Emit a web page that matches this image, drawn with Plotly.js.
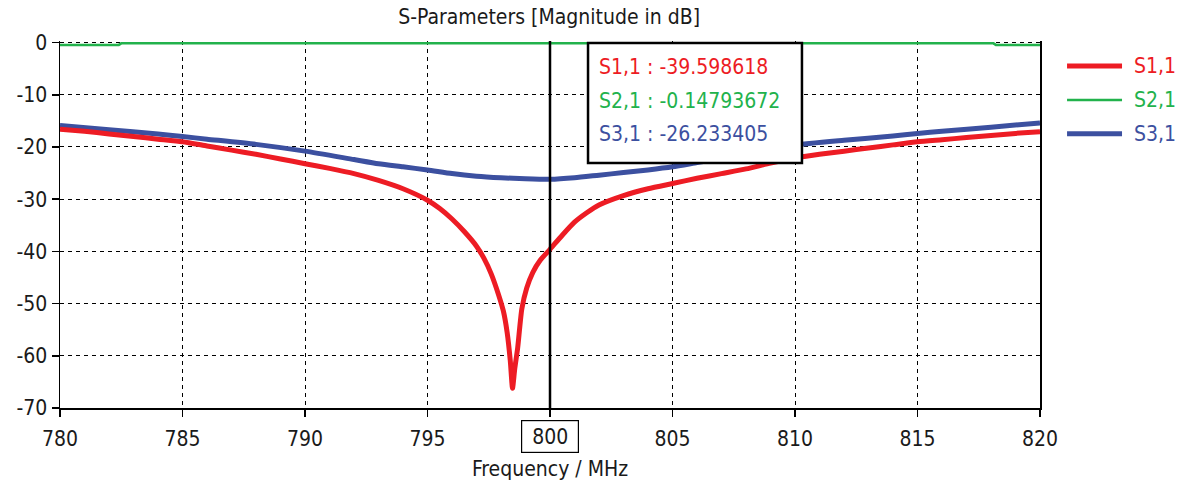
<!DOCTYPE html>
<html>
<head>
<meta charset="utf-8">
<script src="https://cdn.plot.ly/plotly-3.0.1.min.js"></script>
<style>html,body{margin:0;padding:0;background:#fff;}#chart{width:1186px;height:488px;}</style>
</head>
<body>
<div id="chart"></div>
<script>
// ---- data ----
const seriesNames = ['S1,1', 'S2,1', 'S3,1'];

const freqS11 = [780, 781, 782, 783, 784, 785, 786, 787, 788, 789, 790, 791, 792, 793, 794, 795, 795.5, 796, 796.5, 797, 797.3, 797.6, 797.9, 798.1, 798.25, 798.38, 798.47, 798.56, 798.68, 798.85, 799.05, 799.3, 799.6, 800, 800.5, 801, 801.5, 802, 803, 804, 805, 806, 807, 808, 809, 810, 811, 812, 813, 814, 815, 816, 817, 818, 819, 820];
const s11 = [-16.6, -17.0, -17.5, -18.0, -18.5, -19.0, -19.8, -20.6, -21.4, -22.3, -23.2, -24.1, -25.1, -26.4, -28.0, -30.2, -31.8, -33.8, -36.2, -39.0, -41.3, -44.3, -48.3, -51.5, -55.5, -61.0, -66.2, -62.5, -58.5, -51.0, -47.0, -44.0, -41.7, -39.6, -36.9, -34.4, -32.6, -31.1, -29.3, -28.0, -27.0, -26.0, -25.1, -24.2, -23.1, -22.1, -21.4, -20.8, -20.2, -19.6, -19.0, -18.6, -18.2, -17.8, -17.4, -17.1];

const freqS21 = [780, 782.4, 782.5, 818.1, 818.2, 820];
const s21 = [-0.45, -0.45, -0.15, -0.15, -0.45, -0.45];

const freqS31 = [780, 782, 784, 785, 786, 788, 790, 792, 793, 794, 795, 796, 797, 798, 799, 800, 801, 802, 803, 804, 805, 806, 807, 808, 809, 810, 812, 814, 815, 816, 818, 820];
const s31 = [-15.9, -16.7, -17.5, -18.0, -18.5, -19.5, -20.8, -22.4, -23.2, -23.8, -24.4, -25.1, -25.6, -25.9, -26.1, -26.2, -25.9, -25.4, -24.9, -24.4, -23.8, -23.0, -22.2, -21.3, -20.4, -19.6, -18.7, -17.9, -17.4, -17.0, -16.2, -15.4];

const markerFreq = 800;
const markerValues = ['-39.598618', '-0.14793672', '-26.233405'];

const xTickVals = [780, 785, 790, 795, 800, 805, 810, 815, 820];
const xTickLabels = ['780', '785', '790', '795', '800', '805', '810', '815', '820'];
const yTickVals = [0, -10, -20, -30, -40, -50, -60, -70];
const yTickLabels = ['0', '-10', '-20', '-30', '-40', '-50', '-60', '-70'];

const titleText = 'S-Parameters [Magnitude in dB]';
const xTitleText = 'Frequency / MHz';

// ---- styles ----
const FONT = '"DejaVu Sans Condensed", "DejaVu Sans", Verdana, sans-serif';
const FS = 21;
const TXT = '#1a1a1a';
const colors = ['#ED1C24', '#22B24C', '#3C50A0'];
const widths = [5, 2.5, 5];

const traces = [
  {x: freqS11, y: s11, name: seriesNames[0], mode: 'lines', line: {color: colors[0], width: widths[0], shape: 'spline', smoothing: 0.6}},
  {x: freqS21, y: s21, name: seriesNames[1], mode: 'lines', line: {color: colors[1], width: widths[1]}},
  {x: freqS31, y: s31, name: seriesNames[2], mode: 'lines', line: {color: colors[2], width: widths[2], shape: 'spline', smoothing: 0.6}}
];
const drawOrder = [traces[2], traces[1], traces[0]];

const shapes = [];
const annotations = [];

// marker line
shapes.push({type: 'line', xref: 'x', yref: 'paper', x0: markerFreq, x1: markerFreq, y0: 0, y1: 1, line: {color: '#000', width: 2.5}, layer: 'above'});

// readout box
shapes.push({type: 'rect', xref: 'paper', yref: 'paper', x0: 0.5388, x1: 0.7571, y0: 0.6676, y1: 0.9946, line: {color: '#000', width: 2.5}, fillcolor: '#fff', layer: 'above'});
const readY = [0.929, 0.837, 0.747];
for (let i = 0; i < 3; i++) {
  annotations.push({xref: 'paper', yref: 'paper', x: 0.548, y: readY[i], xanchor: 'left', yanchor: 'middle', showarrow: false,
    text: seriesNames[i] + ' : ' + markerValues[i], font: {family: FONT, size: FS, color: colors[i]}});
}

// legend drawn beside the plot
const legY = [0.932, 0.839, 0.747];
for (let i = 0; i < 3; i++) {
  shapes.push({type: 'line', xref: 'paper', yref: 'paper', x0: 1.0276, x1: 1.0837, y0: legY[i], y1: legY[i], line: {color: colors[i], width: widths[i]}});
  annotations.push({xref: 'paper', yref: 'paper', x: 1.094, y: legY[i], xanchor: 'left', yanchor: 'middle', showarrow: false,
    text: seriesNames[i], font: {family: FONT, size: FS, color: colors[i]}});
}

// boxed marker tick label
const markerIdx = xTickVals.indexOf(markerFreq);
const xTickText = xTickLabels.map((t, i) => i === markerIdx ? '' : t);
annotations.push({xref: 'x', yref: 'paper', x: markerFreq, y: -0.079, xanchor: 'center', yanchor: 'middle', showarrow: false,
  text: xTickLabels[markerIdx], width: 52, height: 27, borderpad: 2,
  font: {family: FONT, size: FS, color: TXT}, bordercolor: '#000', borderwidth: 1.2, bgcolor: '#fff'});

const layout = {
  width: 1186, height: 488,
  margin: {l: 60, r: 146, t: 41, b: 80},
  paper_bgcolor: '#fff', plot_bgcolor: '#fff',
  showlegend: false,
  font: {family: FONT, size: FS, color: TXT},
  title: {text: titleText, font: {family: FONT, size: FS, color: TXT}, x: 0.463, xanchor: 'center', y: 0.965, yanchor: 'middle', yref: 'container'},
  xaxis: {
    range: [780, 820], tickvals: xTickVals, ticktext: xTickText,
    ticks: 'outside', ticklen: 7, tickcolor: '#000', tickwidth: 1.5,
    showline: true, linecolor: '#000', linewidth: 1.5, mirror: false,
    showgrid: true, gridcolor: '#000', gridwidth: 1, griddash: '4px,4px',
    zeroline: false,
    tickfont: {family: FONT, size: FS, color: TXT},
    ticklabelstandoff: 4,
    title: {text: xTitleText, font: {family: FONT, size: FS, color: TXT}, standoff: 11}
  },
  yaxis: {
    range: [-70, 0.3], tickvals: yTickVals, ticktext: yTickLabels,
    ticks: 'outside', ticklen: 7, tickcolor: '#000', tickwidth: 1.5,
    showline: true, linecolor: '#000', linewidth: 1.5, mirror: true,
    showgrid: true, gridcolor: '#000', gridwidth: 1, griddash: '4px,4px',
    zeroline: false,
    tickfont: {family: FONT, size: FS, color: TXT}
  },
  shapes: shapes,
  annotations: annotations
};

Plotly.newPlot('chart', drawOrder, layout, {staticPlot: true, displayModeBar: false});
</script>
</body>
</html>
